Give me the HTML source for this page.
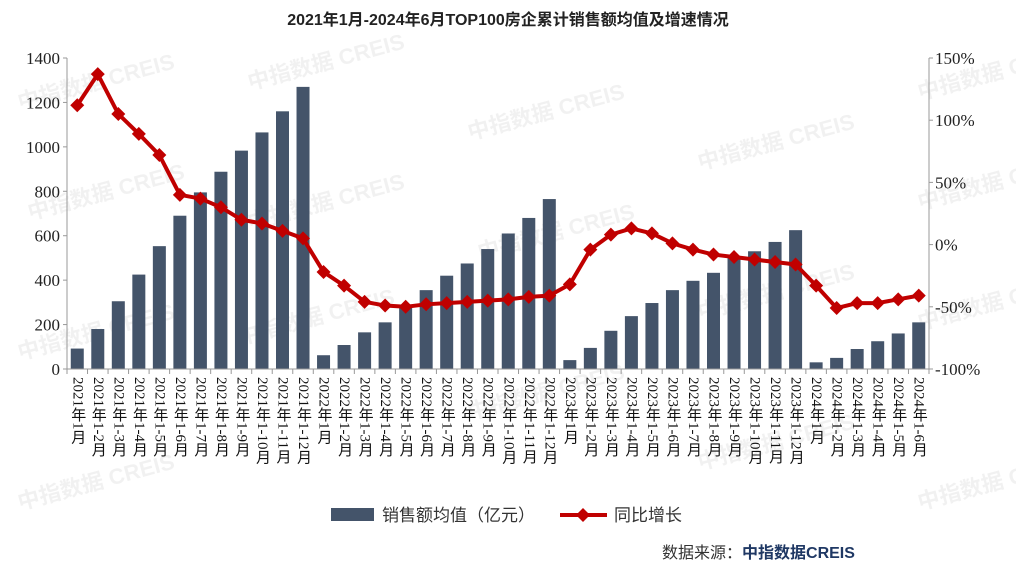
<!DOCTYPE html>
<html><head><meta charset="utf-8"><style>
body{margin:0;width:1016px;height:569px;background:#fff;overflow:hidden;position:relative;font-family:"Liberation Serif","Noto Serif CJK SC",serif}
.xl{position:absolute;top:377px;writing-mode:vertical-rl;font-size:15px;line-height:14px;color:#111;font-family:"Liberation Serif","Noto Sans CJK SC",serif;white-space:nowrap}
</style></head><body>
<svg width="1016" height="569" style="position:absolute;left:0;top:0" id="s" xmlns="http://www.w3.org/2000/svg"></svg>
<div id="lab"></div>
<script>
const bars=[92,180,305,425,553,690,795,888,983,1065,1160,1270,62,108,165,210,285,355,420,475,540,610,680,765,40,95,172,238,297,355,397,433,505,530,572,625,30,50,90,125,160,210];
const yoy=[112,137,105,89,72,40,37,30,20,17,11,5,-22,-33,-46,-49,-50,-48,-47,-46,-45,-44,-42,-41,-32,-4,8,13,9,1,-4,-8,-10,-12,-14,-16,-33,-51,-47,-47,-44,-41];
const x0=67,x1=929,w=(x1-x0)/42,yb=369,yt=58;
const yl=v=>yb-v*(yb-yt)/1400, yr=v=>yb-(v+100)*(yb-yt)/250;
let s='';
s+='<text x="508" y="25" text-anchor="middle" font-size="16" font-weight="bold" font-family="Liberation Sans,Noto Sans CJK SC,sans-serif" fill="#222">2021年1月-2024年6月TOP100房企累计销售额均值及增速情况</text>';
const wm=[[20,110],[250,90],[470,140],[700,170],[30,220],[250,230],[480,260],[700,320],[20,360],[240,345],[470,420],[700,470],[20,510],[920,100],[920,210],[920,330],[920,510]];
wm.forEach(p=>{s+=`<text x="${p[0]}" y="${p[1]}" transform="rotate(-15 ${p[0]} ${p[1]})" font-size="22" font-weight="bold" fill="#000" opacity="0.05" font-family="Liberation Sans,Noto Sans CJK SC,sans-serif">中指数据 CREIS</text>`});
bars.forEach((v,i)=>{const c=x0+w*(i+.5);s+=`<rect x="${c-6.5}" y="${yl(v)}" width="13" height="${yb-yl(v)}" fill="#44546a"/>`});
s+=`<line x1="${x0}" y1="${yt}" x2="${x0}" y2="${yb}" stroke="#999"/>`;
s+=`<line x1="${x1}" y1="${yt}" x2="${x1}" y2="${yb}" stroke="#999"/>`;
s+=`<line x1="${x0}" y1="${yb}" x2="${x1}" y2="${yb}" stroke="#999"/>`;
for(let i=0;i<=42;i++){const x=x0+w*i;s+=`<line x1="${x}" y1="${yb}" x2="${x}" y2="${yb+5}" stroke="#999"/>`}
for(let v=0;v<=1400;v+=200){const y=yl(v);s+=`<line x1="${x0-4}" y1="${y}" x2="${x0}" y2="${y}" stroke="#999"/><text x="${x0-7}" y="${y+6}" text-anchor="end" font-size="17" fill="#222">${v}</text>`}
for(let v=-100;v<=150;v+=50){const y=yr(v);s+=`<line x1="${x1}" y1="${y}" x2="${x1+4}" y2="${y}" stroke="#999"/><text x="${x1+6}" y="${y+6}" font-size="17" fill="#222">${v}%</text>`}
let pts=yoy.map((v,i)=>[x0+w*(i+.5),yr(v)]);
s+=`<polyline points="${pts.map(p=>p.join(',')).join(' ')}" fill="none" stroke="#c00000" stroke-width="4" stroke-linejoin="round"/>`;
pts.forEach(p=>{s+=`<polygon points="${p[0]},${p[1]-7} ${p[0]+7},${p[1]} ${p[0]},${p[1]+7} ${p[0]-7},${p[1]}" fill="#c00000"/>`});
s+=`<rect x="331" y="508" width="43" height="13" fill="#44546a"/>`;
s+=`<text x="382" y="521" font-size="17" fill="#333" font-family="Liberation Sans,Noto Sans CJK SC,sans-serif">销售额均值（亿元）</text>`;
s+=`<line x1="560" y1="515" x2="607" y2="515" stroke="#c00000" stroke-width="4"/><polygon points="583,508 590,515 583,522 576,515" fill="#c00000"/>`;
s+=`<text x="614" y="521" font-size="17" fill="#333" font-family="Liberation Sans,Noto Sans CJK SC,sans-serif">同比增长</text>`;
s+=`<text x="662" y="558" font-size="16" fill="#333" font-family="Liberation Sans,Noto Sans CJK SC,sans-serif">数据来源：<tspan font-weight="bold" fill="#1f3864">中指数据CREIS</tspan></text>`;
document.getElementById('s').innerHTML=s;
let h='';
for(let i=0;i<42;i++){const y=2021+Math.floor(i/12),m=i%12+1;const t=m==1?`${y}年1月`:`${y}年1-${m}月`;const c=x0+w*(i+.5);h+=`<div class="xl" style="left:${c-7}px">${t}</div>`}
document.getElementById('lab').innerHTML=h;
</script>
</body></html>
